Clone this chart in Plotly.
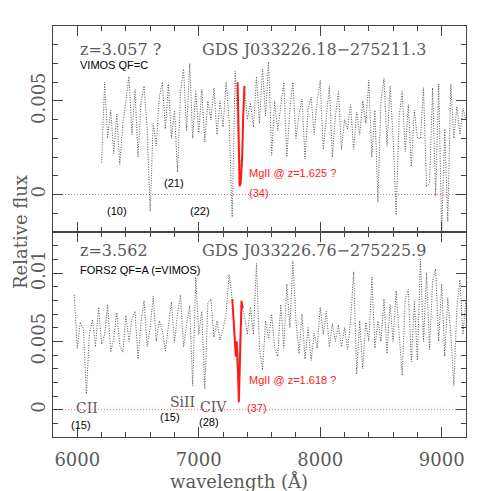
import numpy as np
import plotly.graph_objects as go

# ---------------- data (flux in units of 1e-3) ----------------
wave_start_a = 6200
wave_step = 25
flux_a_milli = [
    1.7, 6.0, 3.0, 4.5, 2.2, 4.3, 1.6, 3.8, 5.0, 6.3,
    3.2, 5.6, 2.0, 5.0, 5.8, 3.5, -0.9, 3.8, 2.6, 5.2,
    6.0, 3.5, 5.9, 3.0, 4.5, 1.2, 5.5, 6.7, 3.4, 7.0,
    3.0, 5.5, 3.3, 5.6, 2.8, 5.0, 4.0, 5.7, 3.2, 5.0,
    3.6, 6.0, 4.0, -1.2, 6.6, 3.0, 1.0, 5.8, 4.0, 4.9,
    3.6, 6.3, 3.8, 6.7, 4.2, 7.1, 2.1, 5.0, 3.4, 4.8,
    6.0, 2.0, 4.5, 6.0, 3.0, 4.3, 5.1, 1.9, 4.6, 5.2,
    3.2, 5.0, 6.1, 2.4, 4.0, 5.8, 2.0, 4.2, 5.5, 2.4,
    4.0, 3.5, 4.8, 2.4, 4.4, 3.2, 5.0, 3.8, 6.1, 2.0,
    4.5, -0.4, 5.0, 6.2, 2.6, 5.8, 3.0, -1.1, 4.2, 5.5,
    2.3, 4.8, 1.5, 4.5, 3.0, 3.0, 5.7, 0.4, 0.6, 5.7,
    -0.1, 5.9, -2.0, 3.5, -1.45, 5.9, 3.0, 4.7, 3.2, 4.6,
    4.0,
]

wave_start_b = 5975
flux_b_milli = [
    8.4, 4.5, 6.4, 5.9, 1.15, 5.6, 6.6, 4.6, 7.5, 4.8,
    5.5, 7.7, 4.2, 5.2, 7.1, 4.7, 4.2, 6.9, 5.0, 6.6,
    7.2, 3.7, 6.5, 8.0, 4.6, 6.0, 8.3, 5.0, 6.5, 5.8,
    4.3, 6.2, 7.9, 4.9, 7.0, 8.4, 4.6, 6.2, 7.6, 1.75,
    9.7, 5.5, 7.2, 1.5, 7.8, 8.1, 5.3, 6.5, 5.1, 5.9,
    7.0, 9.9, 8.1, 4.8, 2.0, 7.5, 7.0, 5.5, 7.5, 5.5,
    10.7, 4.5, 2.9, 6.5, 5.2, 7.0, 4.5, 3.9, 7.7, 4.5,
    9.2, 6.0, 10.9, 6.5, 4.1, 7.0, 3.7, 6.0, 3.6, 5.6,
    4.5, 7.5, 5.5, 7.2, 4.6, 6.3, 5.0, 6.2, 4.6, 6.0,
    4.4, 6.5, 10.1, 2.6, 6.5, 3.0, 6.4, 5.0, 9.7, 4.5,
    6.5, 5.0, 8.1, 4.1, 7.7, 5.0, 8.7, 5.5, 2.5, 8.1,
    8.8, 3.5, 7.9, 3.6, 11.0, 5.0, 10.0, 4.4, 9.4, 10.3,
    5.0, 9.2, 3.9, 8.2, 5.5, 1.75, 7.5, 9.5, 5.5, 8.0,
]

mg_wave_a = [7320, 7328, 7336, 7345, 7352, 7358, 7366, 7376]
mg_flux_a_milli = [6.0, 3.0, 0.45, 0.6, 1.2, 2.05, 4.2, 5.8]
mg_wave_b = [7276, 7290, 7300, 7305, 7312, 7320, 7330, 7340, 7352, 7362]
mg_flux_b_milli = [8.1, 6.2, 4.8, 3.9, 5.0, 3.7, 0.55, 3.5, 7.96, 7.4]

x_ticks = [6000, 7000, 8000, 9000]
y_ticks_a = [0, 0.005]
y_ticks_b = [0, 0.005, 0.01]
y_ticktext_a = ["0", "0.005"]
y_ticktext_b = ["0", "0.005", "0.01"]

wave_a = wave_start_a + wave_step * np.arange(len(flux_a_milli))
wave_b = wave_start_b + wave_step * np.arange(len(flux_b_milli))
flux_a = np.array(flux_a_milli) * 1e-3
flux_b = np.array(flux_b_milli) * 1e-3

SERIF = "DejaVu Serif"
SANS = "Liberation Sans"
GREY = "#5a5a5a"
FRAME = "#444444"
RED = "#ff1a1a"
SPEC = "#555555"

fig = go.Figure()
fig.add_trace(go.Scatter(x=wave_a, y=flux_a, mode="lines", xaxis="x", yaxis="y",
                         line=dict(color=SPEC, width=1, dash="1px,1.5px"), showlegend=False))
fig.add_trace(go.Scatter(x=mg_wave_a, y=np.array(mg_flux_a_milli) * 1e-3, mode="lines",
                         xaxis="x", yaxis="y", line=dict(color=RED, width=2), showlegend=False))
fig.add_trace(go.Scatter(x=wave_b, y=flux_b, mode="lines", xaxis="x2", yaxis="y2",
                         line=dict(color=SPEC, width=1, dash="1px,1.5px"), showlegend=False))
fig.add_trace(go.Scatter(x=mg_wave_b, y=np.array(mg_flux_b_milli) * 1e-3, mode="lines",
                         xaxis="x2", yaxis="y2", line=dict(color=RED, width=2), showlegend=False))

# zero lines
for yref, xref in [("y", "x domain"), ("y2", "x2 domain")]:
    fig.add_shape(type="line", xref=xref, yref=yref, x0=0, x1=1, y0=0, y1=0,
                  line=dict(color="rgba(255,60,60,0.8)", width=1, dash="1px,2px"), layer="below")

ax_common = dict(showline=True, linecolor=FRAME, linewidth=1, mirror="ticks", automargin=False,
                 ticks="inside", tickcolor=FRAME, showgrid=False, zeroline=False)
x_common = dict(ax_common, range=[5800, 9200], tickvals=x_ticks, ticklen=10,
                minor=dict(dtick=200, tick0=6000, ticklen=5, ticks="inside", tickcolor=FRAME))
split = 205 / 411

fig.update_layout(
    template="none",
    width=491, height=491,
    margin=dict(l=53, r=25, t=26, b=54, autoexpand=False),
    paper_bgcolor="white", plot_bgcolor="white",
    xaxis=dict(x_common, domain=[0, 1], anchor="y", showticklabels=False, matches="x2"),
    xaxis2=dict(x_common, domain=[0, 1], anchor="y2",
                tickfont=dict(family=SERIF, size=18, color=GREY), ticklabelstandoff=6),
    yaxis=dict(ax_common, domain=[split, 1], anchor="x", range=[-0.002, 0.009],
               tickvals=y_ticks_a, ticktext=y_ticktext_a, tickangle=-90, ticklen=10,
               tickfont=dict(family=SERIF, size=18, color=GREY),
               minor=dict(dtick=0.001, tick0=0, ticklen=5, ticks="inside", tickcolor=FRAME)),
    yaxis2=dict(ax_common, domain=[0, split], anchor="x2", range=[-0.002, 0.013],
                tickvals=y_ticks_b, ticktext=y_ticktext_b, tickangle=-90, ticklen=10,
                tickfont=dict(family=SERIF, size=18, color=GREY),
                minor=dict(dtick=0.001, tick0=0, ticklen=5, ticks="inside", tickcolor=FRAME)),
)

def label(text, x, y, panel, size=11, family=SANS, color="black", anchor="center"):
    xr, yr = ("x", "y") if panel == 1 else ("x2", "y2")
    fig.add_annotation(text=text, x=x, y=y, xref=xr, yref=yr, showarrow=False,
                       xanchor=anchor, yanchor="middle",
                       font=dict(family=family, size=size, color=color))

# top panel
label("z=3.057 ?", 6005, 0.00777, 1, 16, SERIF, GREY, "left")
label("GDS J033226.18\u2212275211.3", 7010, 0.00777, 1, 16, SERIF, GREY, "left")
label("VIMOS QF=C", 6005, 0.00692, 1, 11, SANS, "black", "left")
label("(10)", 6327, -0.00088, 1)
label("(21)", 6796, 0.00062, 1)
label("(22)", 7010, -0.00088, 1)
label("MgII @ z=1.625 ?", 7397, 0.00115, 1, 11, SANS, RED, "left")
label("(34)", 7397, 0.00008, 1, 11, SANS, RED, "left")

# bottom panel
label("z=3.562", 6005, 0.01168, 2, 16, SERIF, GREY, "left")
label("GDS J033226.76\u2212275225.9", 7010, 0.01168, 2, 16, SERIF, GREY, "left")
label("FORS2 QF=A (=VIMOS)", 6005, 0.01022, 2, 11, SANS, "black", "left")
label("CII", 6080, 0.00012, 2, 14, SERIF, GREY)
label("(15)", 6031, -0.00112, 2)
label("SiII", 6870, 0.00056, 2, 14, SERIF, GREY)
label("(15)", 6763, -0.00054, 2)
label("CIV", 7125, 0.00020, 2, 14, SERIF, GREY)
label("(28)", 7084, -0.0009, 2)
label("MgII @ z=1.618 ?", 7397, 0.00217, 2, 11, SANS, RED, "left")
label("(37)", 7381, 0.00012, 2, 11, SANS, RED, "left")

# axis titles
fig.add_annotation(text="Relative flux", xref="paper", yref="paper", x=-0.08, y=split,
                   textangle=-90, showarrow=False, xanchor="center", yanchor="middle",
                   font=dict(family=SERIF, size=18, color=GREY))
fig.add_annotation(text="wavelength (\u00c5)", xref="paper", yref="paper", x=0.45, y=-0.109,
                   showarrow=False, xanchor="center", yanchor="middle",
                   font=dict(family=SERIF, size=18, color=GREY))

fig.write_html("out.html", config={"displayModeBar": False},
               post_script="document.body.style.margin='0';")
